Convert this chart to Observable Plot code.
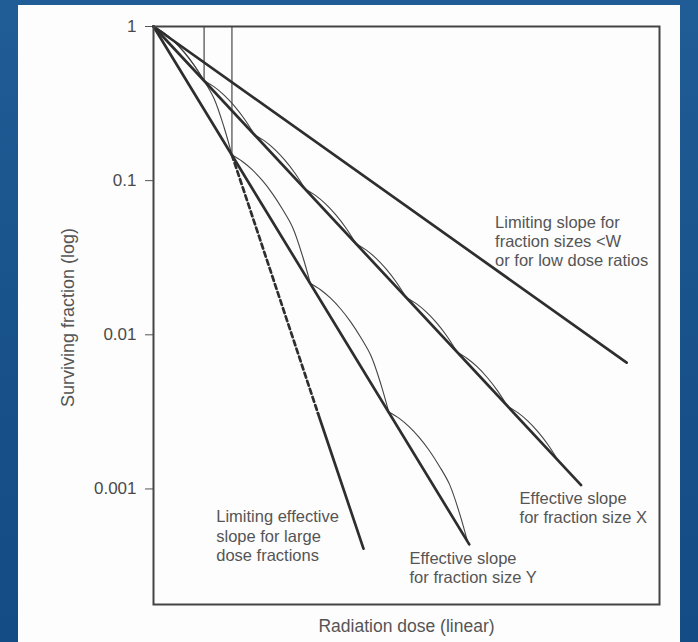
<!DOCTYPE html>
<html><head><meta charset="utf-8">
<script src="https://cdn.jsdelivr.net/npm/d3@7"></script>
<script src="https://cdn.jsdelivr.net/npm/@observablehq/plot@0.6"></script>
<style>
html,body{margin:0;padding:0;}
body{width:698px;height:642px;overflow:hidden;background:linear-gradient(180deg,#205c96 0%,#185189 60%,#144d85 100%);position:relative;font-family:"Liberation Sans",Arial,sans-serif;}
#panel{position:absolute;left:18px;top:5px;width:662px;height:637px;background:#fdfdfd;}
</style></head><body><div id="panel"></div>
<script>
// ---- data ----
const yTickValues = [1, 0.1, 0.01, 0.001];
const yTickLabels = ["1", "0.1", "0.01", "0.001"];

// straight effective-slope lines (dose in arbitrary linear units, surviving fraction)
const lowDoseDose = [0, 18.7];
const lowDoseSF = [1, 0.0066];
const sizeXDose = [0, 16.9];
const sizeXSF = [1, 0.00106];
const sizeYDose = [0, 12.48];
const sizeYSF = [1, 0.000437];
const largeDashedDose = [3.1, 6.5];
const largeDashedSF = [0.1466, 0.0031];
const largeSolidDose = [6.5, 8.3];
const largeSolidSF = [0.0031, 0.00041];

// fraction markers (vertical lines)
const fractionDose = [2, 3.1];
const fractionBottomSF = [0.445, 0.1466];

// start of each fraction's shoulder curve
const xVertexDose = [0, 2, 4, 6, 8, 10, 12, 14];
const xVertexSF = [1, 0.445, 0.198, 0.088, 0.039, 0.0174, 0.0077, 0.00343];
const yVertexDose = [0, 3.1, 6.2, 9.3];
const yVertexSF = [1, 0.1466, 0.0215, 0.00316];

// single-fraction shoulder shape (dose after vertex, log10 drop)
const shoulderDose = [0, 0.4, 0.8, 1.2, 1.6, 2.0, 2.4, 2.8, 3.1];
const shoulderLogDrop = [0, -0.04, -0.095, -0.165, -0.25, -0.352, -0.47, -0.66, -0.834];
const xShoulderPoints = 6; // X fractions use the shoulder up to dose 2

// annotations
const labelText = [
  "Limiting slope for\nfraction sizes <W\nor for low dose ratios",
  "Effective slope\nfor fraction size X",
  "Effective slope\nfor fraction size Y",
  "Limiting effective\nslope for large\ndose fractions"
];
const labelDose = [13.5, 14.47, 10.12, 2.48];
const labelSF = [0.0407, 0.000762, 0.00031, 0.000498];

// ---- build tables ----
const pairs = (d, s, name) => d.map((v, i) => ({dose: v, sf: s[i], name}));
const thickLines = [
  ...pairs(lowDoseDose, lowDoseSF, "W"),
  ...pairs(sizeXDose, sizeXSF, "X"),
  ...pairs(sizeYDose, sizeYSF, "Y"),
  ...pairs(largeSolidDose, largeSolidSF, "L")
];
const dashed = pairs(largeDashedDose, largeDashedSF, "D");
const arcs = [];
xVertexDose.forEach((d0, k) => {
  for (let j = 0; j < xShoulderPoints; j++) arcs.push({arc: "x" + k, dose: d0 + shoulderDose[j], sf: xVertexSF[k] * Math.pow(10, shoulderLogDrop[j])});
});
yVertexDose.forEach((d0, k) => {
  for (let j = 0; j < shoulderDose.length; j++) arcs.push({arc: "y" + k, dose: d0 + shoulderDose[j], sf: yVertexSF[k] * Math.pow(10, shoulderLogDrop[j])});
});
const fractions = fractionDose.map((d, i) => ({dose: d, top: 1, bottom: fractionBottomSF[i]}));
const labels = labelText.map((t, i) => ({text: t, dose: labelDose[i], sf: labelSF[i]}));

const font = '"Liberation Sans", Arial, sans-serif';
const chart = Plot.plot({
  width: 662,
  height: 637,
  marginLeft: 135,
  marginRight: 21,
  marginTop: 21,
  marginBottom: 38,
  x: {domain: [0, 20], axis: null},
  y: {type: "log", domain: [1.78e-4, 1], axis: null},
  style: {fontFamily: font, background: "transparent", color: "#4a4a4a", overflow: "visible"},
  marks: [
    Plot.axisY({ticks: yTickValues, tickFormat: (d) => yTickLabels[yTickValues.indexOf(d)], tickSize: 8, tickPadding: 9, fontSize: 17, label: null, stroke: "#555"}),
    Plot.ruleX(fractions, {x: "dose", y1: "top", y2: "bottom", stroke: "#555", strokeWidth: 1.3}),
    Plot.line(arcs, {x: "dose", y: "sf", z: "arc", curve: "catmull-rom", stroke: "#444", strokeWidth: 1.1}),
    Plot.line(thickLines, {x: "dose", y: "sf", z: "name", stroke: "#2e2e2e", strokeWidth: 2.7}),
    Plot.line(dashed, {x: "dose", y: "sf", stroke: "#2e2e2e", strokeWidth: 2.7, strokeDasharray: "5,3.5"}),
    Plot.text(labels, {x: "dose", y: "sf", text: "text", textAnchor: "start", lineAnchor: "middle", lineHeight: 1.17, fontSize: 16.5, fill: "#555"}),
    Plot.text(["Radiation dose (linear)"], {frameAnchor: "bottom", textAnchor: "middle", dy: 27, fontSize: 17.5, fill: "#555"}),
    Plot.text(["Surviving fraction (log)"], {frameAnchor: "left", textAnchor: "middle", rotate: -90, dx: -85, dy: 2, fontSize: 18, fill: "#555"}),
    Plot.frame({stroke: "#444", strokeWidth: 2})
  ]
});
document.getElementById("panel").appendChild(chart);
</script></body></html>
